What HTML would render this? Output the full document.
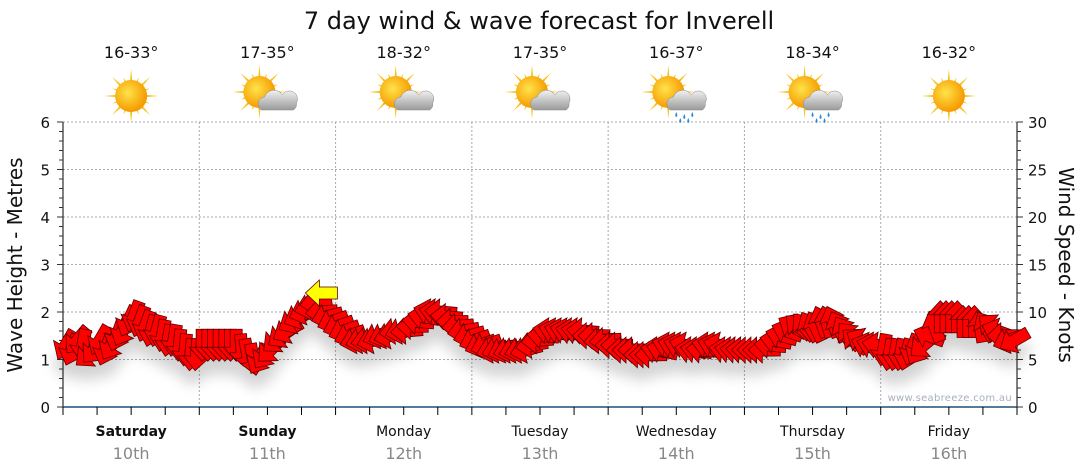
<!DOCTYPE html>
<html><head><meta charset="utf-8"><style>
body{margin:0;background:#fff;}
svg{display:block;font-family:"DejaVu Sans","Liberation Sans",sans-serif;}
</style></head><body>
<svg id="chart" width="1080" height="475" viewBox="0 0 1080 475">
<defs>
<filter id="sh" x="-20%" y="-20%" width="140%" height="200%"><feGaussianBlur in="SourceAlpha" stdDeviation="7"/><feOffset dy="14"/><feComponentTransfer><feFuncA type="linear" slope="0.18"/></feComponentTransfer><feMerge><feMergeNode/><feMergeNode in="SourceGraphic"/></feMerge></filter>
<radialGradient id="sunG" cx="0.4" cy="0.4" r="0.6"><stop offset="0" stop-color="#ffe34a"/><stop offset="1" stop-color="#f59a00"/></radialGradient>
<linearGradient id="cloudG" x1="0" y1="0" x2="0" y2="1"><stop offset="0" stop-color="#f2f2f2"/><stop offset="1" stop-color="#9a9a9a"/></linearGradient>
</defs>
<text x="539" y="29" text-anchor="middle" font-size="24" fill="#111">7 day wind &amp; wave forecast for Inverell</text>
<g id="grid"></g>
<g id="icons"></g>
<g id="axes"></g>
<g id="arrows" filter="url(#sh)"></g>
<text transform="translate(22,265) rotate(-90)" text-anchor="middle" font-size="20" fill="#111">Wave Height - Metres</text>
<text transform="translate(1059,265) rotate(90)" text-anchor="middle" font-size="20" fill="#111">Wind Speed - Knots</text>
<text x="1012" y="401" text-anchor="end" font-size="10" fill="#a8b0bc" letter-spacing="0.3">www.seabreeze.com.au</text>
</svg>
<script>
const days=["Saturday","Sunday","Monday","Tuesday","Wednesday","Thursday","Friday"];
const dates=["10th","11th","12th","13th","14th","15th","16th"];
const temps=["16-33°","17-35°","18-32°","17-35°","16-37°","18-34°","16-32°"];
const icons=["sun","partly","partly","partly","rain","rain","sun"];
const leftTicks=[0,1,2,3,4,5,6];
const rightTicks=[0,5,10,15,20,25,30];
const windSpeed=[
6.5,6,7,6.5,5.5,6,7,6,6.5,7.5,8,9,9.5,9,8.5,8,8,7.5,7,7,6.5,6,5.5,5.5,
6.5,6.5,6.5,6.5,6.5,6.5,6.5,6,5.5,5,5,5.5,6,7,7.5,8,9,9.5,10,10.5,11,10,9.5,9,
8.5,8,7.5,7,7,7,7,7.5,7.5,7.5,8,8,8,8.5,9,9.5,10,10,10,9.5,9,8.5,8,7.5,
7,6.5,6.5,6,6,6,6,6,6,6,6.5,7,7.5,8,8,8,8,8,8,8,7.5,7.5,7,7,
6.5,6.5,6,6,6,5.5,5.5,5.5,6,6,6.5,6.5,6.5,6.5,6,6,6,6.5,6.5,6.5,6,6,6,6,
6,6,6,6,6.5,7,7.5,8,8.5,8.5,8.5,8.5,8.5,9,9,9,8.5,8,7.5,7,7,6.5,6.5,6.5,
6,5.5,5.5,5.5,5.5,6,6,6.5,7.5,8.5,9.5,9.5,9.5,9.5,9,9,9,8.5,8.5,8.5,8,7.5,7,7];
const windDir=[
120,110,130,100,140,130,120,110,120,110,115,115,110,110,110,105,105,100,100,100,95,95,95,95,
90,90,90,90,90,90,90,85,80,80,120,125,135,140,145,150,150,155,160,165,170,175,165,160,
160,160,160,165,165,170,165,160,160,165,170,165,175,180,185,190,195,190,185,185,180,175,170,165,
160,160,160,165,165,160,165,165,165,165,170,175,185,190,195,195,195,190,190,185,180,180,175,175,
180,180,180,180,180,180,180,180,190,195,195,195,195,195,190,190,185,190,195,195,190,190,185,185,
180,180,180,180,185,190,195,200,210,220,230,240,245,250,255,250,245,240,230,220,210,200,195,190,
100,100,100,100,105,110,120,140,200,250,270,270,270,270,270,270,270,260,240,220,200,180,160,150];
const gustSpeed=[12];
const gustHour=[45];
const gustDir=[180];

const svg=document.getElementById('chart');
const NS='http://www.w3.org/2000/svg';
const X0=63,X1=1017,Y0=407,Y1=122;
const dayW=(X1-X0)/7;
const xH=h=>X0+(h+0.5)*(X1-X0)/168;
const yM=m=>Y0-m*(Y0-Y1)/6;
const yK=k=>Y0-k*(Y0-Y1)/30;
function el(tag,attrs,parent,text){const e=document.createElementNS(NS,tag);for(const k in attrs)e.setAttribute(k,attrs[k]);if(text!==undefined)e.textContent=text;parent.appendChild(e);return e;}
const grid=document.getElementById('grid'),axes=document.getElementById('axes'),ic=document.getElementById('icons'),ar=document.getElementById('arrows');
leftTicks.forEach(v=>{if(v>0){const g=el('line',{x1:X0,x2:X1,y1:yM(v),y2:yM(v),stroke:'#aaa','stroke-dasharray':'2,2'},grid);

}});
for(let d=1;d<7;d++){const g=el('line',{x1:X0+d*dayW,x2:X0+d*dayW,y1:Y1,y2:Y0,stroke:'#aaa','stroke-dasharray':'2,2'},grid);

}
el('line',{x1:X0,x2:X0,y1:Y1,y2:Y0+8,stroke:'#000'},axes);
el('line',{x1:X1,x2:X1,y1:Y1,y2:Y0+8,stroke:'#000'},axes);
el('line',{x1:X0,x2:X1,y1:Y0,y2:Y0,stroke:'#1f4e79','stroke-width':1.5},axes);
for(let i=0;i<=30;i++){const y=Y0-i*(Y0-Y1)/30;const L=i%5==0?6:4;
el('line',{x1:X0-L,x2:X0,y1:y,y2:y,stroke:'#333'},axes);el('line',{x1:X1,x2:X1+L,y1:y,y2:y,stroke:'#333'},axes);}
leftTicks.forEach(v=>{const t=el('text',{x:50,y:yM(v)+6,'text-anchor':'end','font-size':15,fill:'#111'},axes,v);

});
rightTicks.forEach(v=>{const t=el('text',{x:1028,y:yK(v)+6,'font-size':15,fill:'#111'},axes,v);

});
for(let h=0;h<=168;h+=6){const x=X0+h*dayW/24;el('line',{x1:x,x2:x,y1:Y0,y2:Y0+8,stroke:'#000'},axes);}
days.forEach((d,i)=>{const cx=X0+(i+0.5)*dayW;
const t=el('text',{x:cx,y:436,'text-anchor':'middle','font-size':14,fill:'#111','font-weight':i<2?'bold':'normal'},axes,d);


const t2=el('text',{x:cx,y:459,'text-anchor':'middle','font-size':16,fill:'#888'},axes,dates[i]);


const t3=el('text',{x:cx,y:58,'text-anchor':'middle','font-size':16,fill:'#111'},ic,temps[i]);


const g=el('g',{transform:`translate(${cx},96)`},ic);


const sx=icons[i]=='sun'?0:-8,sy=icons[i]=='sun'?0:-4;
for(let k=0;k<16;k++){const a=k*Math.PI/8,L=k%2?20:27;
el('polygon',{points:`${sx+Math.cos(a-0.12)*12},${sy+Math.sin(a-0.12)*12} ${sx+Math.cos(a)*L},${sy+Math.sin(a)*L} ${sx+Math.cos(a+0.12)*12},${sy+Math.sin(a+0.12)*12}`,fill:'#f7c21a'},g);}
el('circle',{cx:sx,cy:sy,r:16,fill:'url(#sunG)'},g);
if(icons[i]!='sun'){el('path',{d:'M-6,14 a7,7 0 0 1 3,-13 a10,10 0 0 1 18,-2 a8,8 0 0 1 14,8 a7,7 0 0 1 -3,7 z',fill:'url(#cloudG)',stroke:'#888','stroke-width':0.5},g);}
if(icons[i]=='rain'){[[0,16],[8,18],[16,16],[4,22],[12,22]].forEach(p=>el('path',{d:`M${p[0]},${p[1]} q-2,4 0,5 q2,-1 0,-5z`,fill:'#2a8ad8'},g));}
});
function arrow(cx,cy,dir,fill){
const p='-16,-6 2,-6 2,-13 16,0 2,13 2,6 -16,6';
const a=el('polygon',{points:p,fill:fill,stroke:'#5a0000','stroke-width':0.8,transform:`translate(${cx},${cy}) rotate(${dir})`},ar);
return a;}
windSpeed.forEach((s,h)=>{const a=arrow(xH(h),yK(s),windDir[h],'#ff0000');

});
gustSpeed.forEach((s,i)=>{const a=arrow(xH(gustHour[i]),yK(s),gustDir[i],'#ffff00');

});
</script>
</body></html>
